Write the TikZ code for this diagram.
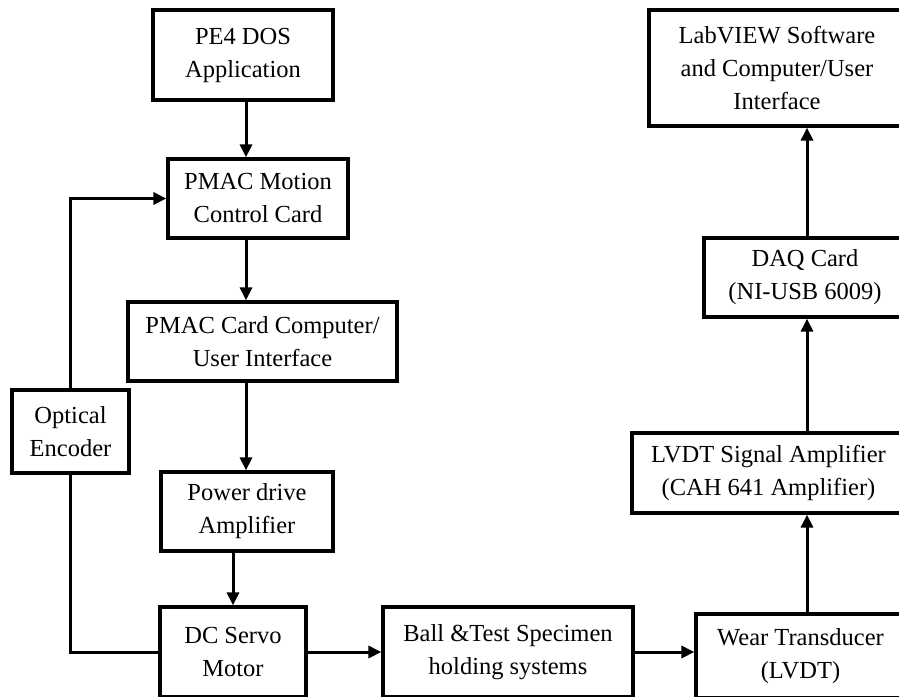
\documentclass[tikz,border=0pt]{standalone}
\usepackage{fontspec}
\setmainfont{Liberation Serif}
\usepackage{tikz}
\usetikzlibrary{positioning, arrows, arrows.meta}

\begin{document}
\begin{tikzpicture}[x=1pt, y=-1pt,
  every node/.style={font=\fontsize{24.5}{33}\selectfont},
  box/.style={draw, line width=3.2pt, align=center, inner sep=0pt},
  arr/.style={-{Triangle[length=13pt, width=12pt]}, line width=3pt}]
\clip (0,0) rectangle (899,696);
\fill[white] (0,0) rectangle (899,696);
% left column
\node[box, minimum width=180, minimum height=90] (pe4) at (243,55) {PE4 DOS\\Application};
\node[box, minimum width=180, minimum height=79] (motion) at (258,198.5) {PMAC Motion\\Control Card};
\node[box, minimum width=269, minimum height=79] (pmacui) at (262.5,341.5) {PMAC Card Computer/\\User Interface};
\node[box, minimum width=117, minimum height=83] (optical) at (70.5,431.5) {Optical\\Encoder};
\node[box, minimum width=172, minimum height=79] (power) at (247,511.5) {Power drive\\Amplifier};
\node[box, minimum width=146, minimum height=90] (motor) at (233,652) {DC Servo\\Motor};
% bottom and right column
\node[box, minimum width=250, minimum height=90] (ball) at (508,652) {Ball \&Test Specimen\\holding systems};
\node[box, minimum width=209, minimum height=84] (wear) at (800.5,656) {Wear Transducer\\(LVDT)};
\node[box, minimum width=273, minimum height=80] (lvdt) at (768.5,473) {LVDT Signal Amplifier\\(CAH 641 Amplifier)};
\node[box, minimum width=202, minimum height=79] (daq) at (805,277.5) {DAQ Card\\(NI-USB 6009)};
\node[box, minimum width=256, minimum height=116] (labview) at (777,68) {LabVIEW Software\\and Computer/User\\Interface};
\coordinate (lcol) at (246,0);
\coordinate (rcol) at (807,0);
\draw[arr] (pe4.south -| lcol) -- (motion.north -| lcol);
\draw[arr] (motion.south -| lcol) -- (pmacui.north -| lcol);
\draw[arr] (pmacui.south -| lcol) -- (power.north -| lcol);
\draw[arr] (power.south -| motor.north) -- (motor.north);
\draw[line width=3pt] (motor.west) -| (optical.south);
\draw[arr] (optical.north) |- (motion.west);
\draw[arr] (motor) -- (ball);
\draw[arr] (ball.east) -- (ball.east -| wear.west);
\draw[arr] (wear.north -| rcol) -- (lvdt.south -| rcol);
\draw[arr] (lvdt.north -| rcol) -- (daq.south -| rcol);
\draw[arr] (daq.north -| rcol) -- (labview.south -| rcol);
\end{tikzpicture}
\end{document}
